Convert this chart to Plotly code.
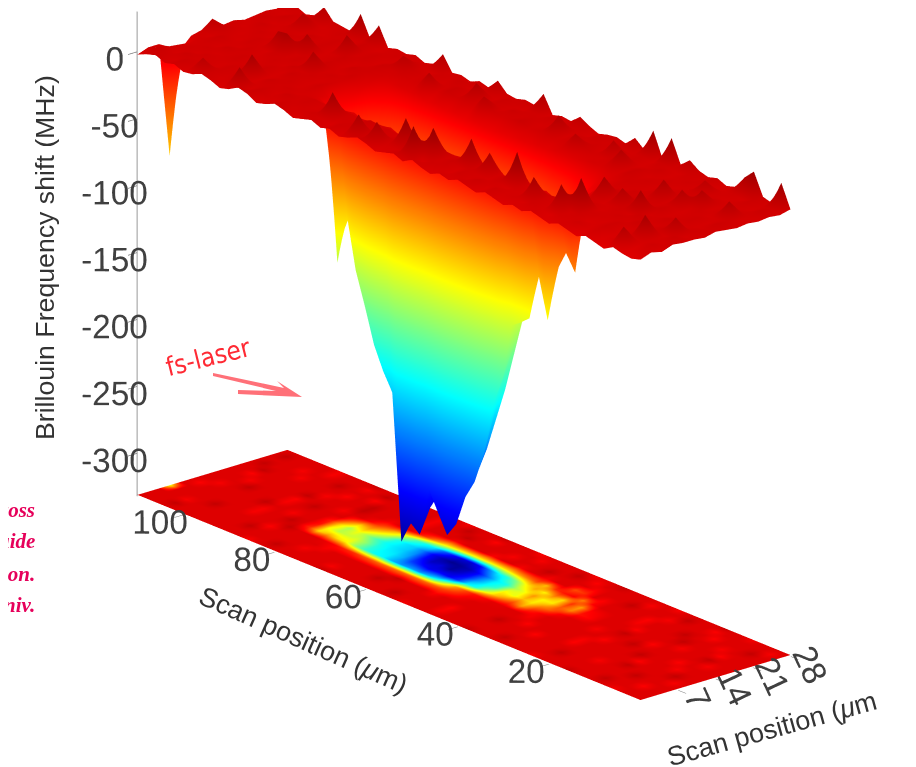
import plotly.graph_objects as go

W, H = 916, 767

# long scan axis (um) and short scan axis (um)
long_scan = list(range(0, 112, 2))
short_scan = list(range(0, 30, 2))

# Brillouin shift of the 3D surface, one row per short_scan value (MHz)
shift = [
 [-2,-4,-3,-1,-5,-3,-1,-4,-2,0, -3,-1,1,-2,0,-3,-1,1,-2,0, 2,-1,1,-2,0,3,-1,2,0,-2, 1,3,0,-2,1,-1,2,0,-2,1, 3,0,-2,2,4,0,-2,1,3,0, -1,2,0,3,1,-2],
 [1,0,-2,12,0,-2,1,-1,2,0, 1,-2,0,2,-1,1,0,2,-1,3, 0,2,-1,1,2,-1,23,2,0,1, 15,0,15,1,2,-1,0,2,1,0, 2,0,1,3,0,14,1,0,2,10, 1,3,0,2,4,1],
 [-1,2,0,1,-2,0,2,0,-1,2, 1,19,0,2,16,0,1,-1,2,0, 1,2,0,3,1,22,2,1,21,2, 1,2,0,3,1,2,18,1,0,2, 1,3,0,2,1,0,3,1,2,0, 2,1,3,0,2,1],
 [2,0,1,16,1,-1,2,0,1,2, 24,1,0,2,1,0,2,24,3,1, 15,1,20,2,1,3,0,2,1,3, 0,2,1,3,0,2,1,3,0,2, 1,0,2,1,3,0,16,1,2,0, 1,2,0,2,1,-85],
 [1,3,0,2,1,3,0,2,1,0, 3,1,2,-3,-5,-2,-4,-6,-3,-5, -2,-4,-3,-5,-2,-4,-3,-5,-2,-4, -3,-5,-2,-4,-3,-5,-2,-4,-3,-5, -1,1,0,2,1,0,3,1,0,2, 1,0,2,1,0,-8],
 [1,0,12,2,0,1,3,0,2,1, 0,3,-3,-60,-48,-64,-104,-73,-108,-114, -119,-163,-184,-224,-247,-261,-284,-295,-281,-266, -303,-297,-314,-205,-192,-175,-149,-125,-85,-125, -4,2,0,1,3,0,2,1,0,2, 1,3,0,2,1,0],
 [0,2,1,0,3,1,0,16,2,12, 1,15,0,-5,-25,-40,-60,-50,-70,-90, -100,-140,-165,-195,-215,-240,-260,-270,-275,-265, -285,-290,-295,-230,-200,-175,-150,-120,-90,-70, -15,1,0,2,1,3,0,2,1,0, 2,0,1,3,0,2],
 [2,1,0,2,1,0,3,1,0,2, 1,3,0,-2,-10,-20,-35,-45,-60,-75, -90,-120,-150,-180,-205,-230,-250,-260,-265,-270, -275,-280,-270,-240,-210,-180,-150,-120,-85,-55, -10,0,2,1,14,0,2,1,3,0, 1,2,0,1,3,8],
 [1,3,0,2,1,0,2,1,3,0, 2,0,1,-1,-5,-10,-20,-30,-40,-55, -70,-90,-120,-150,-180,-200,-225,-240,-250,-255, -255,-250,-240,-215,-190,-160,-130,-100,-70,-40, -5,2,0,1,3,0,2,1,14,13, 0,2,1,0,2,1],
 [0,2,1,0,2,1,12,0,14,2, 0,1,2,0,-2,-5,-10,-15,-20,-30, -40,-50,-70,-90,-110,-130,-150,-170,-180,-185, -180,-175,-170,-150,-125,-100,-80,-55,-35,-15, -2,1,3,0,2,1,0,14,2,1, 3,0,2,1,0,2],
 [1,0,12,2,0,12,1,0,2,1, 0,2,1,3,0,1,-1,0,-2,-3, -4,-3,-5,-4,-6,-5,-7,-6,-8,-7, -6,-8,-5,-7,-4,-6,-3,-4,-2,-3, 0,2,1,0,3,1,0,2,1,0, 2,1,0,3,1,0],
 [0,1,2,0,1,3,0,2,1,0, 2,1,0,3,1,12,2,0,1,3, 10,1,0,2,1,0,3,1,0,2, 10,0,2,1,3,0,11,1,0,2, 1,3,0,2,1,14,0,2,1,3, 0,2,1,0,3,1],
 [1,3,0,2,1,0,2,9,0,2, 1,0,3,1,0,2,1,11,0,2, 1,3,0,13,1,0,2,1,3,0, 2,1,12,0,3,1,0,2,1,3, 10,1,0,2,1,3,0,2,1,0, 2,11,0,3,1,2],
 [0,2,1,3,0,2,1,0,3,1, 2,0,1,3,0,2,1,0,2,1, 3,0,2,1,0,3,1,2,0,1, 3,0,2,1,0,3,1,2,0,1, 3,0,2,1,0,3,1,0,2,1, 0,3,1,2,0,1],
 [2,19,1,3,19,12,2,0,3,1, 3,8,2,19,1,19,2,8,1,3, 2,0,3,7,1,2,0,13,2,3, 1,2,9,1,3,0,2,1,12,2, 0,3,1,2,0,14,2,17,1,2, 3,11,2,0,3,4],
]

# Floor map of the same scan, one row per short_scan value (MHz)
floor_map = [
 [-3,-3,-3,-12,-3,-3,-3,-3,6,-3, -3,-3,-14,-3,-3,-3,-3,-3,-3,6, -3,-3,-3,-3,-3,-3,-12,-3,-3,-3, -3,-3,-3,-3,-3,6,-3,-3,-3,-3, -3,-3,-3,-14,-3,-3,-3,-3,-3,-3, -3,-3,-3,-3,-3,-3],
 [-3,-3,-3,-3,-3,6,-3,-3,-3,-3, -3,-3,-3,-3,-3,-3,6,-3,-3,-3, -3,-3,-3,-12,-3,-3,-3,-3,6,-3, -3,-3,-3,-3,-3,-12,-3,-3,-3,-3, -3,6,-3,-3,-3,-3,-3,-3,-3,-3, -3,-3,6,-3,-3,-3],
 [-3,-3,-14,-3,-3,-3,-3,-3,-3,-3, -3,6,-3,-3,-3,-3,-3,-3,-3,-3, -3,-3,-3,-14,-3,-3,-3,-3,-3,-3, -3,6,-3,-3,-3,-3,-3,-3,-3,-12, -3,-3,-3,-3,-3,6,-3,-3,-3,-3, -3,-3,-12,-3,-3,-3],
 [-3,-3,-3,-3,6,-3,-3,-3,-12,-3, -3,-3,-3,-3,-3,-14,-3,-3,-3,6, -3,-3,-3,-3,-3,-3,-14,-3,-3,-3, 6,-3,-3,-3,-3,-3,-3,-3,-12,-3, -3,-3,-3,-3,-14,-3,-3,-3,-3,-3, 6,-3,-3,-3,-3,-110],
 [-3,-12,-3,-3,-3,-3,6,-3,-3,-3, -3,-3,-14,-3,-3,-3,-3,-14,-3,-3, -3,-3,-3,-3,-10,-25,-35,-45,-50,-50, -50,-50,-50,-50,-45,-40,-30,-25,-15,-8, -3,-3,-3,6,-3,-3,-3,-12,-3,-3, -3,-3,-3,-3,-3,-3],
 [-3,-3,6,-3,-3,-3,-14,-3,-3,-3, -3,-3,-12,-3,-3,-3,-3,-3,-12,-3, -3,-5,-5,-15,-20,-40,-70,-130,-185,-210, -225,-220,-225,-215,-190,-185,-170,-140,-100,-90, -70,-90,-30,-3,6,-3,-3,-12,-3,-3, -3,-3,-3,-3,-14,-3],
 [-3,-3,-3,-12,-3,-3,-3,6,-3,-3, -3,-14,-3,-3,-3,-3,-3,-3,-12,-30, -70,-40,-60,-85,-120,-180,-195,-260,-280,-275, -285,-270,-255,-215,-195,-190,-175,-140,-115,-120, -125,-100,-20,-3,-3,-12,-3,-3,6,-3, -3,-3,-3,-12,-3,-3],
 [-3,-3,-3,-3,-14,-3,-3,-3,-3,6, -3,-3,-3,-12,-3,-3,-3,-15,-45,-60, -95,-80,-110,-100,-170,-190,-225,-270,-295,-315, -290,-300,-270,-225,-205,-195,-185,-165,-135,-105, -130,-85,-25,-3,-3,-3,-3,-12,-3,-3, -3,6,-3,-3,-3,-3],
 [-3,-3,-12,-3,-3,-3,-3,-3,-14,-3, -3,6,-3,-3,-3,-15,-20,-60,-45,-95, -100,-65,-105,-130,-180,-195,-235,-275,-305,-315, -320,-305,-280,-235,-205,-195,-175,-125,-95,-70, -85,-45,-3,-3,-3,6,-3,-14,-3,-3, -3,-3,-12,-3,-3,-3],
 [-3,-3,-3,6,-3,-3,-12,-3,-3,-3, -3,-14,-3,-3,-3,-10,-15,-70,-30,-90, -60,-100,-70,-100,-140,-175,-190,-230,-275,-295, -290,-270,-240,-195,-185,-160,-120,-85,-55,-35, -15,-3,-3,-12,-3,-3,-3,6,-3,-3, -3,-3,-3,-14,-3,-3],
 [-3,-3,-3,-14,-3,-3,-3,6,-3,-3, -3,-3,-12,-3,-3,-3,-3,-15,-60,-15, -20,-30,-80,-40,-55,-70,-85,-95,-100,-100, -105,-100,-95,-90,-65,-35,-15,-3,-3,-12, -3,-3,6,-3,-3,-3,-12,-3,-3,-3, -3,-3,-3,6,-3,-3],
 [-3,-3,-3,-3,-12,-3,-3,-3,6,-3, -3,-3,-14,-3,-3,-3,-3,-14,-3,-30, -40,-3,-3,-12,-3,-3,-12,-3,-3,-14, -3,-3,-3,-12,-3,-3,-3,-12,-3,-3, -3,-3,6,-3,-3,-14,-3,-3,-3,-3, -12,-3,-3,-3,6,-3],
 [-3,-3,6,-3,-3,-3,-14,-3,-3,-3, -3,-12,-3,-3,-3,6,-3,-3,-3,-14, -3,-3,-3,-3,6,-3,-3,-3,-12,-3, -3,-3,-3,6,-3,-3,-3,-12,-3,-3, -3,-3,-3,-14,-3,-3,-3,6,-3,-3, -3,-12,-3,-3,-3,-3],
 [-3,-12,-3,-3,-3,-3,-3,-14,-3,-3, 6,-3,-3,-3,-12,-3,-3,-3,-3,-3, -14,-3,6,-3,-3,-3,-12,-3,-3,-3, -3,-14,-3,-3,6,-3,-3,-12,-3,-3, -3,-3,-3,6,-3,-12,-3,-3,-3,-12, -3,-3,-3,-3,6,-3],
 [-3,-3,-3,-3,-12,-3,-3,6,-3,-3, -3,-3,-14,-3,-3,-3,-3,-3,6,-3, -3,-12,-3,-3,-3,-3,-3,-14,-3,-3, -3,6,-3,-3,-3,-12,-3,-3,-3,-3, -3,-14,-3,-3,-3,6,-3,-3,-3,-12, -3,-3,-3,-3,-3,-3],
]

shift_ticks = [0, -50, -100, -150, -200, -250, -300]
shift_labels = ["0", "-50", "-100", "-150", "-200", "-250", "-300"]
long_ticks = [20, 40, 60, 80, 100]
short_ticks = [7, 14, 21, 28]
side_notes = ["ross", "uide", "ion.", "niv."]

FLOOR_LEVEL = -331
jet = [[0, "rgb(0,0,143)"], [0.125, "rgb(0,0,255)"], [0.375, "rgb(0,255,255)"],
       [0.625, "rgb(255,255,0)"], [0.875, "rgb(255,0,0)"], [1, "rgb(128,0,0)"]]
flat = dict(ambient=1, diffuse=0, specular=0, fresnel=0, roughness=1)
no_contours = dict(x=dict(show=False), y=dict(show=False), z=dict(show=False))

floor_color = [list(c) for c in zip(*floor_map)]
shift_z = [list(c) for c in zip(*shift)]

fig = go.Figure()
fig.add_surface(x=short_scan, y=long_scan,
                z=[[FLOOR_LEVEL for _ in row] for row in floor_color],
                surfacecolor=floor_color,
                cmin=-320, cmax=30, colorscale=jet, showscale=False,
                lighting=flat, hoverinfo="skip", contours=no_contours)
fig.add_surface(x=short_scan, y=long_scan, z=shift_z,
                cmin=-320, cmax=30, colorscale=jet, showscale=False,
                lighting=flat, hoverinfo="skip", contours=no_contours)

tick_font = dict(family="Liberation Sans", size=20, color="#404040")
axis = dict(showbackground=False, showgrid=False, zeroline=False, showspikes=False,
            ticks="outside", tickcolor="#777777", ticklen=12, tickwidth=1.5, tickangle=0,
            tickfont=tick_font, title=dict(text=""), showline=False)

d = (-0.61, -0.711, 0.35)
dist = 3.0
cx, cy, cz = 0.004, -0.0034, -0.16
scale = 2.016
fig.update_layout(
    width=W, height=H, paper_bgcolor="white", margin=dict(l=0, r=0, t=0, b=0),
    scene=dict(
        domain=dict(x=[0, 1], y=[0, 1]),
        aspectmode="manual", aspectratio=dict(x=0.256*scale, y=1*scale, z=0.669*scale),
        xaxis=dict(axis, range=[-0.02, 28.02], tickvals=short_ticks, tickangle=65),
        yaxis=dict(axis, range=[-0.05, 110.05], tickvals=long_ticks),
        zaxis=dict(axis, range=[FLOOR_LEVEL - 1, 30], tickvals=shift_ticks, ticktext=shift_labels,
                   showline=True, linecolor="#999999", linewidth=2),
        camera=dict(projection=dict(type="orthographic"),
                    up=dict(x=0, y=0, z=1),
                    center=dict(x=cx, y=cy, z=cz),
                    eye=dict(x=cx + d[0]*dist, y=cy + d[1]*dist, z=cz + d[2]*dist)),
    ),
)

PAGE = 8  # the page's own margin shifts everything by this many pixels

def note(text, x, y, size, color, angle=0, family="Liberation Sans", xanchor="center"):
    fig.add_annotation(text=text, x=(x-PAGE)/W, y=1-(y-PAGE)/H, xref="paper", yref="paper",
                       showarrow=False, textangle=angle, xanchor=xanchor, yanchor="middle",
                       font=dict(family=family, size=size, color=color))

note("Brillouin Frequency shift (MHz)", 45, 258, 26.7, "#333333", -90)
note("Scan position (<i>μ</i>m)", 303, 640, 27, "#333333", 24)
note("Scan position (<i>μ</i>m", 772, 729, 27, "#333333", -15.5)
note("fs-laser", 208, 357, 26, "#ff2a34", -14, "DejaVu Sans Condensed")
for t, yy in zip(side_notes, [510, 541, 574, 605]):
    note("<b><i>%s</i></b>" % t, 37, yy, 21, "#e6005a", 0, "Liberation Serif", "right")

def P(x, y):
    return "%.4f %.4f" % ((x-PAGE)/W, 1-(y-PAGE)/H)
fig.add_shape(type="path", xref="paper", yref="paper", line=dict(width=0),
              fillcolor="#ff7078", layer="above",
              path="M" + P(213, 373) + "L" + P(284, 388) + "L" + P(277, 381) + "L" + P(302, 397)
                   + "L" + P(238, 394) + "L" + P(238, 390) + "L" + P(276, 391) + "L" + P(213, 376) + "Z")

fig.write_html("out.html")
